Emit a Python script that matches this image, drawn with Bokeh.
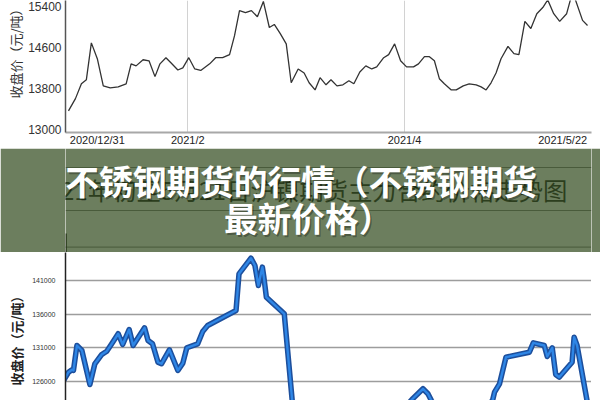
from bokeh.plotting import figure
from bokeh.layouts import column
from bokeh.models import Range1d, FixedTicker, Title, BasicTickFormatter
from bokeh.core.properties import value
from bokeh.embed import file_html
from bokeh.resources import INLINE

# ---------------- upper chart: stainless steel futures close ----------------
top_day = [0, 1.4, 2.6, 3.6, 4.6, 5.8, 7, 8.4, 10, 11.6, 12.6, 13.6, 15, 16.2, 17.4,
           18.4, 19.6, 20.6, 22, 23, 24.2, 25.4, 26.6, 28.4, 29.6, 31, 32.4, 33.4,
           34.4, 35.6, 36.8, 38, 39.2, 40.4, 41.4, 42.6, 43.8, 44.8, 46.2, 47.4, 48.4,
           49.6, 50.6, 51.8, 52.8, 54, 55.2, 56.4, 57.4, 58.6, 59.8, 61, 62, 63.4, 64.4,
           65.6, 66.8, 68, 69.4, 70.4, 71.6, 72.6, 73.6, 74.6, 75.6, 77, 78, 79.4, 80.6,
           82, 83, 84, 85, 86, 87, 88.4, 89.6, 90.6, 91.8, 93, 94.2, 95.4, 96.4, 97.6,
           98.8, 100.2, 101.4, 103.4, 104.4]
top_close = [13360, 13600, 13890, 13970, 14690, 14380, 13850, 13810, 13830, 13890,
             14280, 14240, 14360, 14340, 14030, 14280, 14400, 14300, 14160, 14200,
             14400, 14180, 14150, 14280, 14400, 14400, 14460, 14830, 15320, 15280,
             15320, 15200, 15500, 14990, 15050, 14870, 14670, 13910, 14180, 14100,
             13910, 13770, 14010, 13870, 13970, 13850, 13870, 13950, 13890, 14120,
             14240, 14180, 14220, 14400, 14460, 14670, 14340, 14220, 14220, 14280,
             14420, 14420, 14340, 13990, 13890, 13770, 13770, 13850, 13890, 13870,
             13830, 13770, 13910, 14100, 14380, 14620, 14480, 14460, 15110, 14970,
             15260, 15380, 15530, 15260, 15110, 15260, 15690, 15130, 15030]
top_tick_pos = [5.8, 24, 67.6, 99.4]
top_tick_labels = ["2020/12/31", "2021/2", "2021/4", "2021/5/22"]
top_grid_pos = [24, 67.6]
top_yticks = [13000, 13800, 14600, 15400]

# ---------------- lower chart: SHFE nickel main contract close ----------------
low_day = [0.2, 1.2, 1.9, 2.2, 2.9, 3.9, 5.5, 6.5, 7.9, 8.9, 9.9, 11.2, 12.1, 13.4,
           14.2, 16.5, 17.2, 18.1, 19.2, 19.9, 21.5, 23.2, 24.2, 25, 27.2, 28.2, 29.2,
           34.9, 35.5, 37.9, 38.7, 39.4, 39.9, 40.2, 40.5, 41, 44.6, 46.2, 46.7, 48.2,
           50.2, 52.6, 54.8, 57.2, 59.6, 61.8, 64.2, 66.6, 68.6, 70.5, 72.5, 73.5,
           74.2, 75.2, 77.6, 80, 82.4, 84.8, 86.5, 86.9, 87.9, 89.2, 93.9, 94.7, 96.9,
           97.5, 98.5, 99.2, 99.9, 102.5, 102.9, 103.5, 105.5, 106.2]
low_close = [126100, 127340, 127700, 127600, 131330, 130580, 125510, 128600, 129990,
             130480, 131580, 133080, 131480, 133720, 131330, 133970, 132080, 131580,
             128840, 128600, 130690, 127600, 128690, 130990, 131580, 133420, 134310,
             136550, 142030, 144360, 143270, 140280, 142030, 143020, 141520, 138540,
             136060, 123120, 120500, 119800, 121000, 119500, 121200, 120300, 121600,
             120600, 122000, 121000, 121900, 123420, 124870, 124120, 123120, 121800,
             120500, 121700, 120800, 121900, 123120, 124360, 125610, 129580, 130330,
             131730, 131330, 129690, 130990, 127000, 126600, 128840, 132570, 131330,
             123120, 121500]
low_yticks = [126000, 131000, 136000, 141000, 146000]

y_label = "收盘价（元/吨）"
low_title = "2021年初至5月21日沪镍期货主力合约价格走势图"
banner_lines = ["不锈钢期货的行情（不锈钢期货", "最新价格）"]

W = 600
BL, BR = 62, 9          # shared left/right borders (frames are aligned in a column)
CJK = "Noto Sans CJK SC"
LAT = "Liberation Sans"
BANNER = "#2d4719"       # drawn at alpha 0.7
BANNER_FLAT = "#6c7e5e"  # the same colour already blended over white


def no_ticks(ax):
    ax.major_tick_out = 0
    ax.major_tick_in = 0
    ax.minor_tick_out = 0
    ax.minor_tick_in = 0


# ---------------- figure A (upper chart) ----------------
pa = figure(width=W, height=148, output_backend="svg", toolbar_location=None,
            x_range=Range1d(-0.6, 105.2), y_range=Range1d(12938, 15518),
            min_border_left=BL, min_border_right=BR, min_border_top=0,
            min_border_bottom=0)
pa.outline_line_color = None
pa.line(top_day, top_close, line_color="#333333", line_width=1.3)

xa = pa.xaxis[0]
xa.ticker = FixedTicker(ticks=top_tick_pos)
xa.major_label_overrides = {t: l for t, l in zip(top_tick_pos, top_tick_labels)}
xa.major_label_text_font = LAT
xa.major_label_text_font_size = "11px"
xa.major_label_text_color = "#222222"
xa.major_label_standoff = 1
xa.axis_label = None
xa.axis_label_standoff = 0
xa.axis_line_color = "#a8a8a8"
xa.axis_line_width = 2
no_ticks(xa)

pa.xgrid.ticker = FixedTicker(ticks=top_grid_pos)
pa.xgrid.grid_line_color = "#d2d2d2"
pa.ygrid.grid_line_color = None

ya = pa.yaxis[0]
ya.ticker = FixedTicker(ticks=top_yticks)
ya.axis_label = None
ya.major_label_text_font = LAT
ya.major_label_text_font_size = "12px"
ya.major_label_text_color = "#333333"
ya.major_label_standoff = 4
ya.axis_line_color = "#555555"
ya.axis_line_width = 1.5
no_ticks(ya)
pa.add_layout(Title(text=y_label, align="left", offset=34, standoff=2,
                    text_font=CJK, text_font_size="13px", text_font_style="normal",
                    text_color="#333333"), "left")

# ---------------- figure B (banner across the join of the two source images) ----------------
pb = figure(width=W, height=104, output_backend="svg", toolbar_location=None,
            x_range=Range1d(62, 591), y_range=Range1d(252, 148),
            x_axis_location=None, y_axis_location=None,
            min_border_left=BL, min_border_right=BR, min_border_top=0,
            min_border_bottom=0)
pb.outline_line_color = None
pb.grid.visible = False
pb.background_fill_color = "white"
pb.border_fill_color = BANNER_FLAT
# faint frame lines of the source pictures and the top of the lower chart
pb.segment(x0=[62, 62], y0=[167, 210], x1=[591, 591], y1=[167, 210],
           line_color="#8a8a8a", line_width=1)
pb.segment(x0=[62], y0=[246.7], x1=[591], y1=[246.7],
           line_color="#3a3a3a", line_width=1.3, line_dash="1 1")
pb.segment(x0=[62.6], y0=[233], x1=[62.6], y1=[252], line_color="#222222", line_width=1.5)
pb.text(x=[30], y=[189], text=[low_title], text_font=value(CJK),
        text_font_size="24.4px", text_color="#2a2a2a",
        text_baseline="middle", text_align="left")
pb.quad(left=[62], right=[591], bottom=[252], top=[148],
        fill_color=BANNER, fill_alpha=0.7, line_color=None)
pb.text(x=[300.5, 307.5], y=[181.5, 218.5], text=banner_lines, text_font=value(CJK),
        text_font_style="bold", text_font_size="33.7px", text_color="black",
        text_alpha=0.3, text_align="center", text_baseline="middle")
pb.text(x=[299, 306], y=[180, 217], text=banner_lines, text_font=value(CJK),
        text_font_style="bold", text_font_size="33.7px", text_color="white",
        text_align="center", text_baseline="middle")

# ---------------- figure C (lower chart) ----------------
pc = figure(width=W, height=148, output_backend="svg", toolbar_location=None,
            x_range=Range1d(0.6, 106.4), y_range=Range1d(123120, 145209),
            x_axis_location=None, min_border_left=BL, min_border_right=BR,
            min_border_top=0, min_border_bottom=0)
pc.outline_line_color = None
pc.xgrid.grid_line_color = None
pc.ygrid.grid_line_color = "#3a3a3a"
pc.ygrid.grid_line_dash = "1 1"
pc.ygrid.grid_line_width = 1.3
pc.line(low_day, low_close, line_color="#1d4f9c", line_width=5.5, line_join="round")
pc.line(low_day, low_close, line_color="#2e86e6", line_width=2.4, line_join="round")

yc = pc.yaxis[0]
yc.ticker = FixedTicker(ticks=low_yticks)
yc.formatter = BasicTickFormatter(use_scientific=False)
yc.axis_label = None
yc.major_label_text_font = LAT
yc.major_label_text_font_size = "7px"
yc.major_label_text_color = "#333333"
yc.major_label_standoff = 10
yc.axis_line_color = "#222222"
yc.axis_line_width = 1.5
no_ticks(yc)
pc.add_layout(Title(text=y_label, align="left", offset=15, standoff=8,
                    text_font=CJK, text_font_size="13px", text_font_style="bold",
                    text_color="#222222"), "left")

layout = column(pa, pb, pc, spacing=0)
open("out.html", "w").write(file_html(layout, INLINE))
